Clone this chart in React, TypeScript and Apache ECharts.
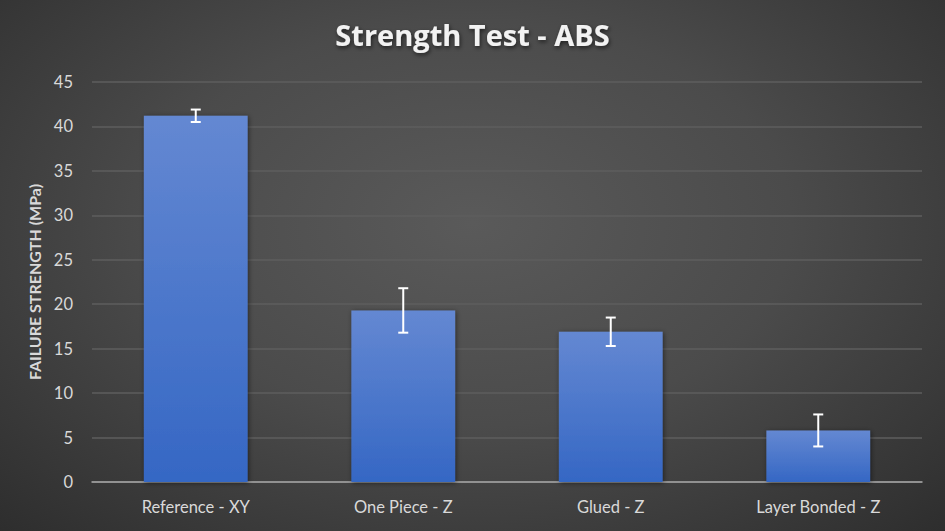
import React, { useEffect, useRef } from "react";
import * as echarts from "echarts";

const categories = ["Reference - XY", "One Piece - Z", "Glued - Z", "Layer Bonded - Z"];
const strengths = [41.2, 19.3, 16.9, 5.8];
const errors = [0.7, 2.5, 1.6, 1.8];
const yTicks = { min: 0, max: 45, interval: 5 };

const FONT = "Lato, 'Open Sans', sans-serif";

export default function App() {
  const ref = useRef<HTMLDivElement>(null);
  useEffect(() => {
    document.body.style.margin = "0";
    const chart = echarts.init(ref.current!, null, { renderer: "svg" });
    chart.setOption({
      animation: false,
      backgroundColor: "transparent",
      title: {
        text: "Strength Test - ABS",
        left: "center",
        top: 15,
        textStyle: {
          color: "#f2f2f2",
          fontFamily: "'Open Sans', sans-serif",
          fontWeight: "bold",
          fontSize: 29,
          textShadowColor: "rgba(0,0,0,0.6)",
          textShadowBlur: 4,
          textShadowOffsetX: 1,
          textShadowOffsetY: 2,
        },
      },
      grid: { left: 92, right: 23, top: 82, bottom: 49 },
      xAxis: {
        type: "category",
        data: categories,
        axisLine: { lineStyle: { color: "#a6a6a6", width: 1.5 } },
        axisTick: { show: false },
        axisLabel: { color: "#d9d9d9", fontFamily: FONT, fontSize: 16.5, margin: 16 },
      },
      yAxis: {
        type: "value",
        min: yTicks.min,
        max: yTicks.max,
        interval: yTicks.interval,
        name: "FAILURE STRENGTH (MPa)",
        nameLocation: "middle",
        nameGap: 47,
        nameTextStyle: { color: "#d9d9d9", fontFamily: FONT, fontWeight: "bold", fontSize: 16 },
        axisLine: { show: false },
        axisTick: { show: false },
        axisLabel: { color: "#d9d9d9", fontFamily: FONT, fontSize: 16.5, margin: 19 },
        splitLine: { lineStyle: { color: "#5e5e5e", width: 1.5 } },
      },
      series: [
        {
          type: "bar",
          data: strengths,
          barWidth: "50%",
          itemStyle: {
            color: new echarts.graphic.LinearGradient(0, 0, 0, 1, [
              { offset: 0, color: "#6488d2" },
              { offset: 1, color: "#3567c4" },
            ]),
            shadowColor: "rgba(0,0,0,0.5)",
            shadowBlur: 5,
            shadowOffsetX: 1,
            shadowOffsetY: 1,
          },
        },
        {
          type: "custom",
          data: strengths.map((v, i) => [i, v - errors[i], v + errors[i]]),
          z: 10,
          renderItem: (params: any, api: any) => {
            const x = api.value(0);
            const lo = api.coord([x, api.value(1)]);
            const hi = api.coord([x, api.value(2)]);
            const hw = 5;
            const style = { stroke: "#ffffff", lineWidth: 2 };
            return {
              type: "group",
              children: [
                { type: "line", shape: { x1: lo[0], y1: lo[1], x2: hi[0], y2: hi[1] }, style },
                { type: "line", shape: { x1: lo[0] - hw, y1: lo[1], x2: lo[0] + hw, y2: lo[1] }, style },
                { type: "line", shape: { x1: hi[0] - hw, y1: hi[1], x2: hi[0] + hw, y2: hi[1] }, style },
              ],
            };
          },
        },
      ],
    });
    return () => chart.dispose();
  }, []);
  return (
    <div
      ref={ref}
      style={{
        width: 945,
        height: 531,
        background: "radial-gradient(ellipse 75% 85% at 50% 42%, #5a5a5a 0%, #4b4b4b 45%, #2b2b2b 100%)",
      }}
    />
  );
}
